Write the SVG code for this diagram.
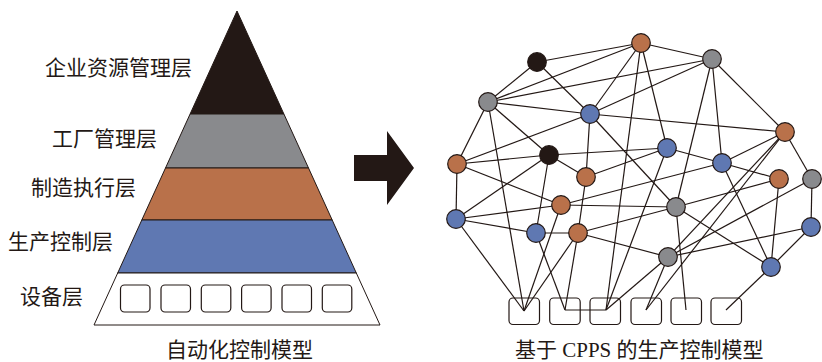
<svg xmlns="http://www.w3.org/2000/svg" width="822" height="362" viewBox="0 0 822 362">
<style>
.t{font-family:"Noto Sans CJK SC","Noto Sans CJK JP",sans-serif;font-size:21px;fill:#231815}
.c{font-family:"Liberation Serif","Noto Sans CJK SC",serif;font-size:21px;fill:#231815}
.ly{stroke:#231815;stroke-width:1}
.bx{fill:#fff;stroke:#231815;stroke-width:1.2}
.e line, .e polyline{stroke:#231815;stroke-width:1.2;fill:none}
.n circle{stroke:#231815;stroke-width:1.2}
.k{fill:#231815}.g{fill:#898a8d}.o{fill:#b9714a}.b{fill:#5f78b2}
</style>
<g id="pyramid">
<polygon class="ly" points="237,11 283.9,114 190.1,114" fill="#231815"/>
<polygon class="ly" points="190.1,114 283.9,114 308.5,168 165.5,168" fill="#898a8d"/>
<polygon class="ly" points="165.5,168 308.5,168 332.2,220 141.8,220" fill="#b9714a"/>
<polygon class="ly" points="141.8,220 332.2,220 356.3,273 117.7,273" fill="#5f78b2"/>
<polygon class="ly" points="117.7,273 356.3,273 380,325 94,325" fill="#fff"/>
<rect class="bx" x="120.5" y="285" width="29.5" height="27" rx="4"/>
<rect class="bx" x="161" y="285" width="29.5" height="27" rx="4"/>
<rect class="bx" x="201.3" y="285" width="29.5" height="27" rx="4"/>
<rect class="bx" x="241.6" y="285" width="29.5" height="27" rx="4"/>
<rect class="bx" x="282" y="285" width="29.5" height="27" rx="4"/>
<rect class="bx" x="322.3" y="285" width="29.5" height="27" rx="4"/>
</g>
<g id="labels">
<text class="t" x="45" y="74.7">企业资源管理层</text>
<text class="t" x="52" y="146">工厂管理层</text>
<text class="t" x="31" y="195">制造执行层</text>
<text class="t" x="8" y="249">生产控制层</text>
<text class="t" x="20" y="304">设备层</text>
<text class="t" x="166" y="357">自动化控制模型</text>
<text class="c" x="515" y="357">基于 CPPS 的生产控制模型</text>
</g>
<g id="arrow">
<polygon points="354,155 387,155 387,131 414,168 387,205 387,181 354,181" fill="#231815"/>
</g>
<g id="boxes">
<rect class="bx" x="509" y="298" width="30.5" height="26.5" rx="4"/>
<rect class="bx" x="549.7" y="298" width="30.5" height="26.5" rx="4"/>
<rect class="bx" x="590" y="298" width="30.5" height="26.5" rx="4"/>
<rect class="bx" x="631" y="298" width="30.5" height="26.5" rx="4"/>
<rect class="bx" x="671" y="298" width="30.5" height="26.5" rx="4"/>
<rect class="bx" x="711" y="298" width="30.5" height="26.5" rx="4"/>
</g>
<g id="connectors" class="e">
<line x1="537" y1="62" x2="641" y2="43"/>
<line x1="537" y1="62" x2="488" y2="102"/>
<line x1="537" y1="62" x2="590" y2="114"/>
<line x1="488" y1="102" x2="641" y2="43"/>
<line x1="488" y1="102" x2="712" y2="59"/>
<line x1="488" y1="102" x2="590" y2="114"/>
<line x1="488" y1="102" x2="457" y2="164"/>
<line x1="488" y1="102" x2="524" y2="311"/>
<line x1="488" y1="102" x2="549" y2="155"/>
<line x1="641" y1="43" x2="712" y2="59"/>
<line x1="641" y1="43" x2="590" y2="114"/>
<line x1="641" y1="43" x2="667" y2="148"/>
<line x1="641" y1="43" x2="606" y2="310"/>
<line x1="712" y1="59" x2="590" y2="114"/>
<line x1="712" y1="59" x2="785" y2="132"/>
<line x1="712" y1="59" x2="722" y2="163"/>
<line x1="712" y1="59" x2="676" y2="207"/>
<line x1="590" y1="114" x2="785" y2="132"/>
<line x1="590" y1="114" x2="457" y2="164"/>
<line x1="590" y1="114" x2="586" y2="177"/>
<line x1="590" y1="114" x2="676" y2="207"/>
<line x1="785" y1="132" x2="722" y2="163"/>
<line x1="785" y1="132" x2="812" y2="179"/>
<line x1="785" y1="132" x2="646" y2="310"/>
<line x1="785" y1="132" x2="668" y2="257"/>
<line x1="549" y1="155" x2="457" y2="164"/>
<line x1="549" y1="155" x2="667" y2="148"/>
<line x1="549" y1="155" x2="586" y2="177"/>
<line x1="549" y1="155" x2="536" y2="233"/>
<line x1="549" y1="155" x2="456" y2="219"/>
<line x1="457" y1="164" x2="561" y2="205"/>
<line x1="457" y1="164" x2="456" y2="219"/>
<line x1="456" y1="219" x2="561" y2="205"/>
<line x1="456" y1="219" x2="536" y2="233"/>
<line x1="456" y1="219" x2="524" y2="311"/>
<line x1="561" y1="205" x2="524" y2="311"/>
<line x1="561" y1="205" x2="676" y2="207"/>
<line x1="561" y1="205" x2="722" y2="163"/>
<line x1="536" y1="233" x2="578" y2="233"/>
<line x1="536" y1="233" x2="565" y2="310"/>
<line x1="578" y1="233" x2="524" y2="311"/>
<line x1="578" y1="233" x2="565" y2="310"/>
<line x1="578" y1="233" x2="668" y2="257"/>
<line x1="578" y1="233" x2="676" y2="207"/>
<line x1="586" y1="177" x2="578" y2="233"/>
<line x1="586" y1="177" x2="667" y2="148"/>
<line x1="667" y1="148" x2="722" y2="163"/>
<line x1="667" y1="148" x2="606" y2="310"/>
<line x1="722" y1="163" x2="779" y2="179"/>
<line x1="722" y1="163" x2="771" y2="267"/>
<line x1="779" y1="179" x2="771" y2="267"/>
<line x1="779" y1="179" x2="676" y2="207"/>
<line x1="812" y1="179" x2="811" y2="227"/>
<line x1="812" y1="179" x2="668" y2="257"/>
<line x1="811" y1="227" x2="668" y2="257"/>
<line x1="811" y1="227" x2="771" y2="267"/>
<line x1="676" y1="207" x2="771" y2="267"/>
<line x1="676" y1="207" x2="686" y2="310"/>
<line x1="668" y1="257" x2="646" y2="310"/>
<line x1="668" y1="257" x2="606" y2="310"/>
<line x1="771" y1="267" x2="726" y2="310"/>
<polyline points="565,310 606,310"/>
</g>
<g id="nodes" class="n">
<g id="nA"><circle class="k" cx="537" cy="62" r="9.3"/></g>
<g id="nB"><circle class="o" cx="641" cy="43" r="9.3"/></g>
<g id="nC"><circle class="g" cx="712" cy="59" r="9.3"/></g>
<g id="nD"><circle class="g" cx="488" cy="102" r="9.3"/></g>
<g id="nE"><circle class="b" cx="590" cy="114" r="9.3"/></g>
<g id="nF"><circle class="o" cx="785" cy="132" r="9.3"/></g>
<g id="nG"><circle class="k" cx="549" cy="155" r="9.3"/></g>
<g id="nH"><circle class="b" cx="667" cy="148" r="9.3"/></g>
<g id="nI"><circle class="o" cx="457" cy="164" r="9.3"/></g>
<g id="nJ"><circle class="b" cx="722" cy="163" r="9.3"/></g>
<g id="nK"><circle class="o" cx="586" cy="177" r="9.3"/></g>
<g id="nL"><circle class="o" cx="779" cy="179" r="9.3"/></g>
<g id="nM"><circle class="g" cx="812" cy="179" r="9.3"/></g>
<g id="nN"><circle class="o" cx="561" cy="205" r="9.3"/></g>
<g id="nO"><circle class="b" cx="456" cy="219" r="9.3"/></g>
<g id="nP"><circle class="g" cx="676" cy="207" r="9.3"/></g>
<g id="nQ"><circle class="b" cx="536" cy="233" r="9.3"/></g>
<g id="nR"><circle class="o" cx="578" cy="233" r="9.3"/></g>
<g id="nS"><circle class="b" cx="811" cy="227" r="9.3"/></g>
<g id="nT"><circle class="g" cx="668" cy="257" r="9.3"/></g>
<g id="nU"><circle class="b" cx="771" cy="267" r="9.3"/></g>
</g>
</svg>
